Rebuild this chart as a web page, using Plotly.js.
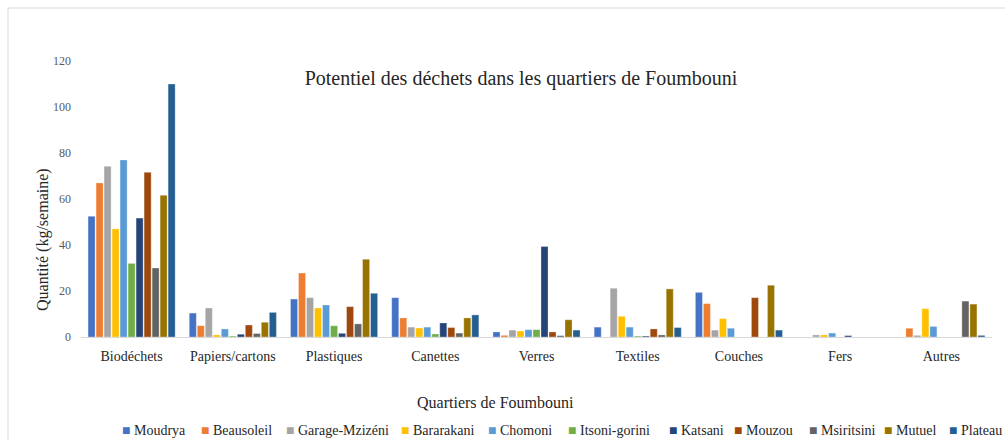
<!DOCTYPE html>
<html>
<head>
<meta charset="utf-8">
<script src="https://cdn.plot.ly/plotly-3.0.1.min.js"></script>
<style>html,body{margin:0;padding:0;background:#fff;}#chart{width:1005px;height:440px;}</style>
</head>
<body>
<div id="chart"></div>
<script>
const categories = ["Biodéchets","Papiers/cartons","Plastiques","Canettes","Verres","Textiles","Couches","Fers","Autres"];
const seriesNames = ["Moudrya","Beausoleil","Garage-Mzizéni","Bararakani","Chomoni","Itsoni-gorini","Katsani","Mouzou","Msiritsini","Mutuel","Plateau"];
const moudrya    = [52.5, 10.4, 16.5, 17.1, 2.2, 4.3, 19.4, 0, 0];
const beausoleil = [67, 4.9, 27.8, 8.3, 0.7, 0, 14.5, 0, 3.8];
const garage     = [74.2, 12.6, 17.1, 4.3, 3, 21.2, 3, 0.9, 0.7];
const bararakani = [47, 0.9, 12.6, 3.9, 2.6, 9, 8, 0.9, 12.3];
const chomoni    = [77, 3.5, 13.9, 4.3, 3.2, 4.3, 3.8, 1.7, 4.6];
const itsoni     = [32, 0.4, 4.9, 1.3, 3.2, 0.4, 0, 0, 0];
const katsani    = [51.7, 1.2, 1.6, 6.1, 39.3, 0.4, 0, 0.6, 0];
const mouzou     = [71.6, 5.2, 13.2, 4.1, 2.2, 3.5, 17.1, 0, 0];
const msiritsini = [30, 1.5, 5.7, 1.7, 0.6, 0.9, 0, 0, 15.6];
const mutuel     = [61.6, 6.4, 33.8, 8.3, 7.5, 20.9, 22.5, 0, 14.3];
const plateau    = [110, 10.7, 19, 9.6, 3, 4.1, 3, 0, 0.7];
const seriesValues = [moudrya, beausoleil, garage, bararakani, chomoni, itsoni, katsani, mouzou, msiritsini, mutuel, plateau];
const colors = ["#4472C4","#ED7D31","#A5A5A5","#FFC000","#5B9BD5","#70AD47","#264478","#9E480E","#636363","#997300","#255E91"];
const yTicks = [0, 20, 40, 60, 80, 100, 120];
// legend entry left edges (px) as laid out in the reference
const legendX = [120, 199, 284, 399, 486, 566, 667, 732, 807, 882, 947];

const font = "'Liberation Serif', 'DejaVu Serif', serif";
const traces = seriesNames.map((n, i) => ({
  type: "bar", name: n, x: categories, y: seriesValues[i],
  marker: {color: colors[i], line: {color: "rgba(255,255,255,0.5)", width: 0.6}}
}));

// plot area in pixels: left 81, right 992, top 61, bottom 337
const L = 81, R = 992, T = 61, B = 337;
const W = 1005, H = 440;
const px = x => (x - L) / (R - L);
const py = y => (B - y) / (B - T);

const legendAnn = seriesNames.map((n, i) => ({
  text: "<span style='color:" + colors[i] + "'>■</span> " + n,
  xref: "paper", yref: "paper", x: px(legendX[i]), y: py(430), xanchor: "left", yanchor: "middle",
  showarrow: false, font: {family: font, size: 14, color: "#262626"}
}));

const layout = {
  width: W, height: H,
  margin: {l: L, r: W - R, t: T, b: H - B, pad: 0},
  paper_bgcolor: "#fff", plot_bgcolor: "#fff",
  font: {family: font, color: "#404040"},
  barmode: "group", bargap: 0.13, bargroupgap: 0.12,
  showlegend: false,
  title: {text: "Potentiel des déchets dans les quartiers de Foumbouni", font: {family: font, size: 20, color: "#262626"},
          x: 521 / W, xref: "container", xanchor: "center", y: 1 - 78 / H, yref: "container", yanchor: "middle"},
  xaxis: {type: "category", showline: true, linecolor: "#d9d9d9", linewidth: 1, ticks: "", showgrid: false,
          tickfont: {family: font, size: 14, color: "#262626"}, ticklabelstandoff: 6, fixedrange: true},
  yaxis: {range: [0, 120], tickvals: yTicks, ticktext: yTicks.map(String), showgrid: false, zeroline: false, showline: false,
          ticks: "", tickfont: {family: font, size: 12, color: "#595959"}, ticklabelstandoff: 9, fixedrange: true},
  annotations: [
    {text: "Quantité (kg/semaine)", xref: "paper", yref: "paper", x: px(43), y: py(240), textangle: -90,
     showarrow: false, xanchor: "center", yanchor: "middle", font: {family: font, size: 16, color: "#262626"}},
    {text: "Quartiers de Foumbouni", xref: "paper", yref: "paper", x: px(495), y: py(402),
     showarrow: false, xanchor: "center", yanchor: "middle", font: {family: font, size: 16, color: "#262626"}}
  ].concat(legendAnn),
  shapes: [
    {type: "line", xref: "paper", yref: "paper", x0: px(8), x1: px(1010), y0: py(8), y1: py(8), line: {color: "#d9d9d9", width: 1}},
    {type: "line", xref: "paper", yref: "paper", x0: px(8), x1: px(8), y0: py(8), y1: py(445), line: {color: "#d9d9d9", width: 1}}
  ]
};
Plotly.newPlot("chart", traces, layout, {displayModeBar: false, staticPlot: true});
</script>
</body>
</html>
